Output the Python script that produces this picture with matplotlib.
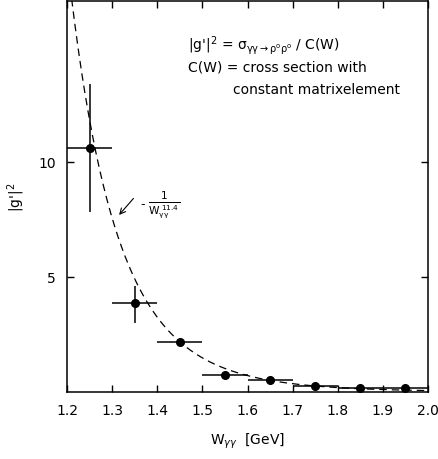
import numpy as np
import matplotlib.pyplot as plt

# data
w_centers = [1.25, 1.35, 1.45, 1.55, 1.65, 1.75, 1.85, 1.95]
g2_values = [10.6, 3.85, 2.15, 0.72, 0.52, 0.24, 0.15, 0.15]
g2_err_lo = [2.8, 0.85, 0, 0, 0, 0, 0, 0]
g2_err_hi = [2.8, 0.75, 0, 0, 0, 0, 0, 0]
w_halfbin = [0.05] * 8

fit_norm = 150.0
fit_power = 11.4

x_ticks = [1.2, 1.3, 1.4, 1.5, 1.6, 1.7, 1.8, 1.9, 2.0]
x_ticklabels = ['1.2', '1.3', '1.4', '1.5', '1.6', '1.7', '1.8', '1.9', '2.0']
y_ticks = [5, 10]

fig = plt.figure(figsize=(4.39, 4.6), dpi=100)
ax = fig.add_axes([0.153, 0.146, 0.822, 0.85])

ax.errorbar(w_centers, g2_values, yerr=[g2_err_lo, g2_err_hi], xerr=w_halfbin,
            fmt='o', color='black', ms=5.5, elinewidth=1.1, capsize=0)

w = np.linspace(1.2, 2.0, 300)
ax.plot(w, fit_norm / w**fit_power, color='black', lw=0.9, ls=(0, (6, 4)))

ax.set_xlim(1.2, 2.0)
ax.set_ylim(0, 17)
ax.set_xticks(x_ticks)
ax.set_xticklabels(x_ticklabels)
ax.set_yticks(y_ticks)
ax.tick_params(direction='in', top=True, right=True, length=5, width=1,
               labelsize=10, pad=8)
for s in ax.spines.values():
    s.set_linewidth(1.1)

ax.set_xlabel(r'W$_{\gamma\gamma}$  [GeV]', fontsize=10, labelpad=10)
ax.set_ylabel(r"|g'|$^2$", fontsize=10, labelpad=8)

# formula block, top right
ax.text(1.468, 15.1,
        r"|g'|$^2$ = $\mathregular{\sigma_{\gamma\gamma\rightarrow\rho^o\rho^o}}$ / C(W)",
        fontsize=10, va='center')
ax.text(1.468, 14.15, "C(W) = cross section with", fontsize=10, va='center')
ax.text(1.568, 13.15, "constant matrixelement", fontsize=10, va='center')

# fit label with arrow to the curve
ax.annotate('', xy=(1.311, 7.6), xytext=(1.351, 8.5),
            arrowprops=dict(arrowstyle='->', color='black', lw=0.8))
ax.text(1.362, 8.17, '-', fontsize=9, va='center')
ax.text(1.38, 8.17, r'$\mathregular{\frac{1}{W_{\gamma\gamma}^{\ 11.4}}}$',
        fontsize=11, va='center')

fig.savefig('out.png', dpi=100)
